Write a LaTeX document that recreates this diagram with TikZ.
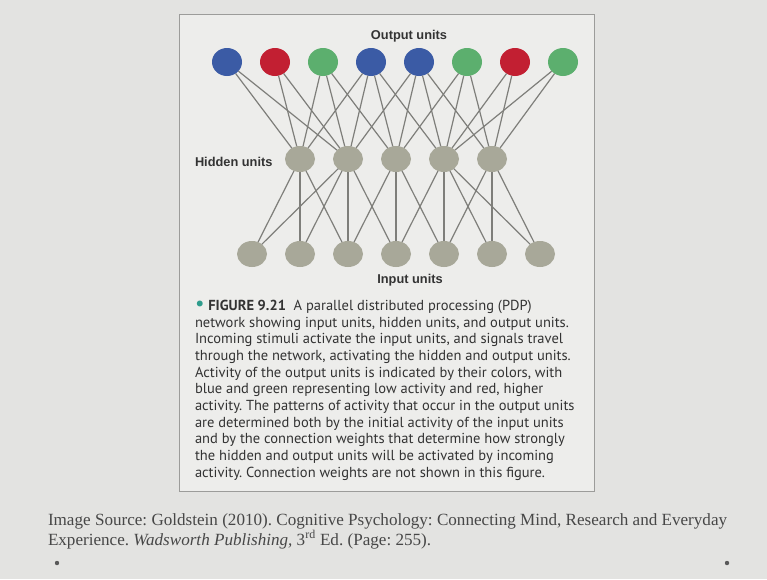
\documentclass[tikz,border=0pt]{standalone}
\usepackage{fontspec}
\setmainfont{PT Sans}
\newfontfamily\labfont{Liberation Sans}
\newfontfamily\srcfont{Liberation Serif}
\usepackage{xcolor}
\usepackage{tikz}
\usetikzlibrary{positioning,shapes.geometric}
\definecolor{slidebg}{HTML}{E3E3E1}
\definecolor{boxbg}{HTML}{EDEDEB}
\definecolor{boxline}{HTML}{9C9C9A}
\definecolor{unitblue}{HTML}{3B5BA5}
\definecolor{unitred}{HTML}{C21F32}
\definecolor{unitgreen}{HTML}{5CAF6E}
\definecolor{unitgray}{HTML}{A8A899}
\definecolor{linkgray}{HTML}{7E7E7A}
\definecolor{bulletteal}{HTML}{2E9C8C}
\frenchspacing

\begin{document}
\begin{tikzpicture}[x=1pt,y=-1pt,
  every node/.style={inner sep=0pt,outer sep=0pt},
  unit/.style={ellipse,minimum width=30pt,minimum height=28pt},
  outunit/.style={unit,fill=#1},
  grayunit/.style={unit,fill=unitgray,minimum height=26pt},
  link/.style={draw=linkgray,line width=1.2pt},
  lab/.style={font=\labfont\bfseries\fontsize{12.8}{14}\selectfont,text=black!80},
  captext/.style={font=\fontsize{14.5}{16.7}\selectfont,text=black!80,align=left,anchor=north west},
  srctext/.style={font=\srcfont\fontsize{17.1}{18}\selectfont,text=black!72,align=left,anchor=north west}
]
\useasboundingbox (0,0) rectangle (767,579);
\fill[slidebg] (0,0) rectangle (767,579);
\filldraw[fill=boxbg,draw=boxline,line width=0.8pt] (179,14) rectangle (594,491);

% output, hidden and input layers
\foreach \c [count=\i] in {unitblue,unitred,unitgreen,unitblue,unitblue,unitgreen,unitred,unitgreen}
  \node[outunit=\c] (o\i) at ({227+48*(\i-1)},62) {};
\foreach \i in {1,...,5}
  \node[grayunit] (h\i) at ({300+48*(\i-1)},159) {};
\foreach \i in {1,...,7}
  \node[grayunit] (i\i) at ({252+48*(\i-1)},254) {};

% connections
\foreach \a/\b in {1/1,1/2,2/1,2/2,3/1,3/2,3/3,4/1,4/2,4/3,4/4,
                   5/2,5/3,5/4,5/5,6/3,6/4,6/5,7/4,7/5,8/4,8/5}
  \draw[link] (o\a) -- (h\b);
\foreach \a/\b in {1/1,1/2,1/3,2/1,2/2,2/3,2/4,3/3,3/4,3/5,
                   4/4,4/5,4/6,4/7,5/5,5/6,5/7}
  \draw[link] (h\a) -- (i\b);

\node[lab] (outlab) at (409,36) {Output units};
\node[lab,anchor=west] (hidlab) at (195,162) {Hidden units};
\node[lab] (inlab) at (410,280) {Input units};

\node[captext] (caption) at (195,300) {%
  {\color{bulletteal}\fontsize{21}{16.7}\selectfont\textbullet}\ \textbf{FIGURE 9.21}\ \ A parallel distributed processing (PDP)\\
  network showing input units, hidden units, and output units.\\
  Incoming stimuli activate the input units, and signals travel\\
  through the network, activating the hidden and output units.\\
  Activity of the output units is indicated by their colors, with\\
  blue and green representing low activity and red, higher\\
  activity. The patterns of activity that occur in the output units\\
  are determined both by the initial activity of the input units\\
  and by the connection weights that determine how strongly\\
  the hidden and output units will be activated by incoming\\
  activity. Connection weights are not shown in this figure.};

\node[srctext] (source) at (48,514) {%
  Image Source: Goldstein (2010). Cognitive Psychology: Connecting Mind, Research and Everyday\\
  Experience. \textit{Wadsworth Publishing,} 3\textsuperscript{rd} Ed. (Page: 255).};

\fill[black!65] (57,563) circle (2.2pt) (727,563) circle (2.2pt);
\end{tikzpicture}
\end{document}
